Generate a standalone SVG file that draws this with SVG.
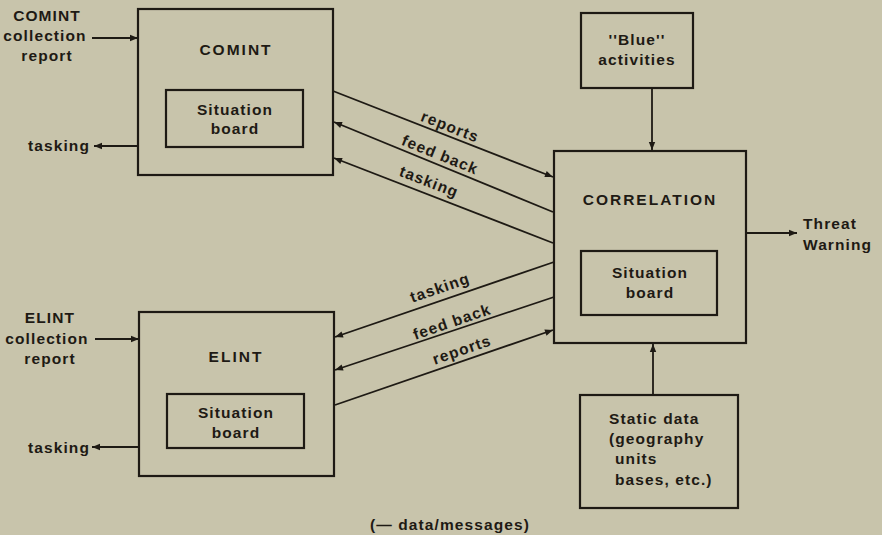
<svg xmlns="http://www.w3.org/2000/svg" width="882" height="535" viewBox="0 0 882 535">
  <style>
    .bg { fill: #c8c4ab; }
    .box { fill: none; stroke: #1e1a14; stroke-width: 2.2; }
    .ln { fill: none; stroke: #1e1a14; stroke-width: 1.8; }
    text { font-family: "Liberation Sans", Arial, sans-serif; font-weight: bold; font-size: 15.5px; fill: #1e1a14; letter-spacing: 1.1px; }
    .c { text-anchor: middle; }
    .title { letter-spacing: 2px; }
  </style>
  <defs>
    <marker id="arrow" viewBox="0 0 10 10" refX="10" refY="5" markerWidth="11" markerHeight="8" markerUnits="userSpaceOnUse" orient="auto">
      <path d="M0,1 L10,5 L0,9 Z" fill="#1e1a14"/>
    </marker>
  </defs>

  <rect class="bg" x="0" y="0" width="882" height="535"/>

  <!-- COMINT node -->
  <g id="comint">
    <rect class="box" x="138" y="9" width="195" height="166"/>
    <text class="c title" x="236" y="55">COMINT</text>
    <rect class="box" x="166" y="90" width="137" height="57"/>
    <text class="c" x="235" y="115">Situation</text>
    <text class="c" x="235" y="134">board</text>
  </g>

  <!-- ELINT node -->
  <g id="elint">
    <rect class="box" x="139" y="312" width="195" height="164"/>
    <text class="c title" x="236" y="362">ELINT</text>
    <rect class="box" x="167" y="394" width="137" height="54"/>
    <text class="c" x="236" y="418">Situation</text>
    <text class="c" x="236" y="438">board</text>
  </g>

  <!-- Correlation node -->
  <g id="correlation">
    <rect class="box" x="554" y="151" width="192" height="192"/>
    <text class="c title" x="650" y="205">CORRELATION</text>
    <rect class="box" x="581" y="251" width="136" height="64"/>
    <text class="c" x="650" y="278">Situation</text>
    <text class="c" x="650" y="298">board</text>
  </g>

  <!-- Blue activities node -->
  <g id="blue">
    <rect class="box" x="581" y="13" width="112" height="75"/>
    <text class="c" x="637" y="45">''Blue''</text>
    <text class="c" x="637" y="65">activities</text>
  </g>

  <!-- Static data node -->
  <g id="static">
    <rect class="box" x="580" y="395" width="158" height="113"/>
    <text x="609" y="424">Static data</text>
    <text x="609" y="444">(geography</text>
    <text x="615" y="464">units</text>
    <text x="615" y="485">bases, etc.)</text>
  </g>

  <!-- external labels -->
  <g id="labels">
    <text class="c" x="47" y="21">COMINT</text>
    <text class="c" x="45" y="41">collection</text>
    <text class="c" x="47" y="61">report</text>
    <text x="28" y="151">tasking</text>
    <text class="c" x="50" y="323">ELINT</text>
    <text class="c" x="47" y="344">collection</text>
    <text class="c" x="50" y="364">report</text>
    <text x="28" y="453">tasking</text>
    <text x="803" y="229">Threat</text>
    <text x="803" y="250">Warning</text>
    <text class="c" x="450" y="530">(— data/messages)</text>
  </g>

  <!-- connectors -->
  <g id="connectors">
    <line class="ln" x1="92" y1="38" x2="138" y2="38" marker-end="url(#arrow)"/>
    <line class="ln" x1="138" y1="146" x2="94" y2="146" marker-end="url(#arrow)"/>
    <line class="ln" x1="95" y1="339" x2="139" y2="339" marker-end="url(#arrow)"/>
    <line class="ln" x1="139" y1="447" x2="92" y2="447" marker-end="url(#arrow)"/>

    <line class="ln" x1="333" y1="91" x2="553" y2="177" marker-end="url(#arrow)"/>
    <line class="ln" x1="553" y1="212" x2="334" y2="122" marker-end="url(#arrow)"/>
    <line class="ln" x1="553" y1="243" x2="334" y2="158" marker-end="url(#arrow)"/>

    <line class="ln" x1="554" y1="262" x2="335" y2="337" marker-end="url(#arrow)"/>
    <line class="ln" x1="554" y1="297" x2="335" y2="370" marker-end="url(#arrow)"/>
    <line class="ln" x1="335" y1="405" x2="553" y2="330" marker-end="url(#arrow)"/>

    <line class="ln" x1="652" y1="88" x2="652" y2="150" marker-end="url(#arrow)"/>
    <line class="ln" x1="653" y1="395" x2="653" y2="344" marker-end="url(#arrow)"/>
    <line class="ln" x1="746" y1="233" x2="797" y2="233" marker-end="url(#arrow)"/>

    <text class="c" transform="translate(450,127) rotate(21.5)" y="5">reports</text>
    <text class="c" transform="translate(440,155) rotate(22)" y="5">feed back</text>
    <text class="c" transform="translate(429,182) rotate(21)" y="5">tasking</text>

    <text class="c" transform="translate(440,288) rotate(-19)" y="5">tasking</text>
    <text class="c" transform="translate(452,322) rotate(-19)" y="5">feed back</text>
    <text class="c" transform="translate(462,350) rotate(-19)" y="5">reports</text>
  </g>
</svg>
